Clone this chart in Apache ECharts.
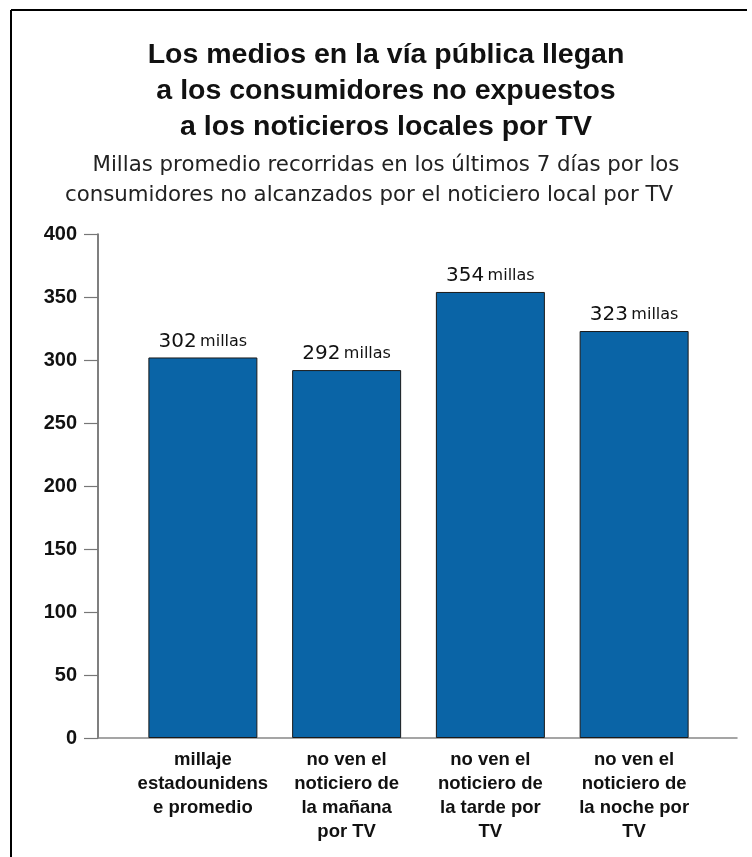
<!DOCTYPE html>
<html>
<head>
<meta charset="utf-8">
<script src="https://cdn.jsdelivr.net/npm/echarts@6/dist/echarts.min.js"></script>
<style>
html,body{margin:0;padding:0;background:#fff;}
#chart{width:752px;height:857px;}
</style>
</head>
<body>
<div id="chart"></div>
<script>
const titleLines = ["Los medios en la vía pública llegan", "a los consumidores no expuestos", "a los noticieros locales por TV"];
const subtitleLine1 = "Millas promedio recorridas en los últimos 7 días por los";
const subtitleLine2 = "consumidores no alcanzados por el noticiero local por TV";
const categories = [
  "millaje\nestadounidens\ne promedio",
  "no ven el\nnoticiero de\nla mañana\npor TV",
  "no ven el\nnoticiero de\nla tarde por\nTV",
  "no ven el\nnoticiero de\nla noche por\nTV"
];
const values = [302, 292, 354, 323];
const unitLabel = "millas";
const yTicks = { min: 0, max: 400, interval: 50 };

const FONT = "'Liberation Sans', Arial, sans-serif";
const SUBFONT = "'DejaVu Sans', 'Liberation Sans', sans-serif";
const chart = echarts.init(document.getElementById('chart'), null, {renderer: 'canvas'});
const option = {
  backgroundColor: '#fff',
  animation: false,
  title: [
    {
      text: titleLines.join('\n'),
      left: 381, top: 32, textAlign: 'center',
      textStyle: {fontFamily: FONT, fontWeight: 'bold', fontSize: 28.5, lineHeight: 36, color: '#111'}
    },
    {
      text: subtitleLine1,
      left: 381, top: 145, textAlign: 'center',
      textStyle: {fontFamily: SUBFONT, fontWeight: 'normal', fontSize: 21.3, lineHeight: 30, color: '#222'}
    },
    {
      text: subtitleLine2,
      left: 364, top: 175, textAlign: 'center',
      textStyle: {fontFamily: SUBFONT, fontWeight: 'normal', fontSize: 21.3, lineHeight: 30, color: '#222'}
    }
  ],
  graphic: [
    {type: 'line', shape: {x1: 11, y1: 10, x2: 747, y2: 10}, style: {stroke: '#000', lineWidth: 2}},
    {type: 'line', shape: {x1: 11, y1: 10, x2: 11, y2: 857}, style: {stroke: '#000', lineWidth: 2}}
  ],
  grid: [
    {left: 98, right: 15, top: 234, bottom: 119},
    {left: 131, right: 46, top: 234, bottom: 119}
  ],
  xAxis: [
    {
      gridIndex: 0, type: 'value', min: 0, max: 1,
      axisLine: {show: true, lineStyle: {color: '#888', width: 1.5}},
      axisTick: {show: false}, axisLabel: {show: false}, splitLine: {show: false}
    },
    {
      gridIndex: 1, type: 'category', data: categories,
      axisLine: {show: false}, axisTick: {show: false}, splitLine: {show: false},
      axisLabel: {
        interval: 0, margin: 10, color: '#111',
        fontFamily: FONT, fontWeight: 'bold', fontSize: 18.5, lineHeight: 24
      }
    }
  ],
  yAxis: [
    {
      gridIndex: 0, type: 'value', min: yTicks.min, max: yTicks.max, interval: yTicks.interval,
      axisLine: {show: true, lineStyle: {color: '#555', width: 1.5}},
      axisTick: {show: true, inside: false, length: 14, lineStyle: {color: '#777', width: 1.2}},
      splitLine: {show: false},
      axisLabel: {margin: 21, color: '#111', fontFamily: FONT, fontWeight: 'bold', fontSize: 20}
    },
    {
      gridIndex: 1, type: 'value', min: yTicks.min, max: yTicks.max, interval: yTicks.interval,
      show: false, splitLine: {show: false}
    }
  ],
  series: [
    {
      type: 'bar', xAxisIndex: 1, yAxisIndex: 1,
      data: values, barWidth: 109,
      itemStyle: {color: '#0a64a6', borderColor: '#1a1a1a', borderWidth: 1},
      label: {
        show: true, position: 'top', distance: 6,
        formatter: p => '{n|' + p.value + '} {u|' + unitLabel + '}',
        rich: {
          n: {fontFamily: SUBFONT, fontSize: 20, color: '#111'},
          u: {fontFamily: SUBFONT, fontSize: 16, color: '#111'}
        }
      }
    }
  ]
};
chart.setOption(option);
</script>
</body>
</html>
